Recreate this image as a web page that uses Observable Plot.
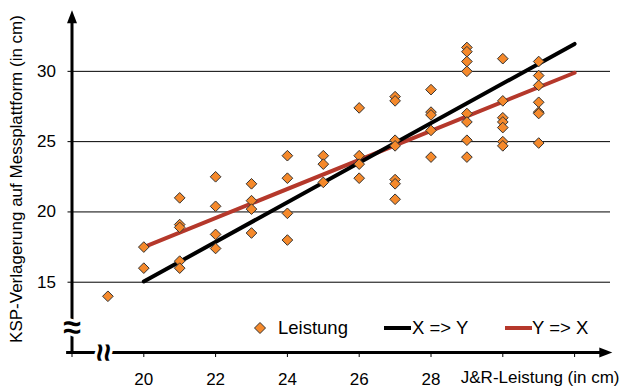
<!DOCTYPE html>
<html>
<head>
<meta charset="utf-8">
<script src="https://cdn.jsdelivr.net/npm/d3@7"></script>
<script src="https://cdn.jsdelivr.net/npm/@observablehq/plot@0.6"></script>
<style>
  html, body { margin: 0; padding: 0; background: white; }
  #wrap { position: relative; width: 622px; height: 389px; font-family: "Liberation Sans", Arial, sans-serif; }
  .leg { position: absolute; font-size: 18.5px; line-height: 20px; color: black; white-space: nowrap; }
  .swatch { position: absolute; height: 4px; }
</style>
</head>
<body>
<div id="wrap"></div>
<script>
// ---- data ----
const jrLeistung = [19,20,20,21,21,21,21,21,22,22,22,22,23,23,23,23,24,24,24,24,25,25,25,26,26,26,26,
  27,27,27,27,27,27,27,28,28,28,28,28,29,29,29,29,29,29,29,29,30,30,30,30,30,30,30,31,31,31,31,31,31,31];
const kspVerlagerung = [14.0,17.5,16.0,21.0,19.1,18.9,16.5,16.0,22.5,20.4,18.4,17.4,22.0,20.8,20.2,18.5,
  24.0,22.4,19.9,18.0,24.0,23.4,22.1,27.4,24.0,23.4,22.4,28.2,27.9,25.1,24.7,22.3,22.0,20.9,
  28.7,27.1,26.9,25.8,23.9,31.7,31.4,30.7,30.0,27.0,26.4,25.1,23.9,30.9,27.9,26.7,26.4,26.0,25.0,24.7,
  30.7,29.7,29.0,27.8,27.1,27.0,24.9];
const lineX = [20, 32];
const xToY = [15.05, 31.95];   // "X => Y"
const yToX = [17.5, 29.9];     // "Y => X"
const xTicks = [18, 20, 22, 24, 26, 28, 30, 32];
const xTickLabels = [20, 22, 24, 26, 28];
const yTicks = [15, 20, 25, 30];
const seriesNames = ["Leistung", "X => Y", "Y => X"];
const xTitle = "J&R-Leistung (in cm)";
const yTitle = "KSP-Verlagerung auf Messplattform (in cm)";

// ---- styles ----
const orange = "#f5892b", red = "#b5382b";
const xMin = 18, xMax = 33, yMin = 10, yMax = 34.4;

const points = jrLeistung.map((x, i) => ({x, y: kspVerlagerung[i]}));
const blackLine = lineX.map((x, i) => ({x, y: xToY[i]}));
const redLine = lineX.map((x, i) => ({x, y: yToX[i]}));

const arrowHead = {
  draw(ctx, size) {
    const r = Math.sqrt(size / Math.PI);
    ctx.moveTo(0, 0);
    ctx.lineTo(r, 2.6 * r);
    ctx.lineTo(-r, 2.6 * r);
    ctx.closePath();
  }
};

const chart = Plot.plot({
  width: 622, height: 389,
  marginLeft: 71.5, marginRight: 12, marginTop: 9, marginBottom: 37,
  x: {domain: [xMin, xMax]},
  y: {domain: [yMin, yMax]},
  style: {fontFamily: "'Liberation Sans', Arial, sans-serif", color: "black", background: "white", overflow: "visible"},
  marks: [
    Plot.ruleY(yTicks, {x1: xMin, x2: xMax, stroke: "black", strokeWidth: 1}),
    Plot.line(redLine, {x: "x", y: "y", stroke: red, strokeWidth: 4}),
    Plot.line(blackLine, {x: "x", y: "y", stroke: "black", strokeWidth: 4}),
    Plot.dot(points, {x: "x", y: "y", symbol: "diamond2", r: 4.8, fill: orange, stroke: "#333", strokeWidth: 1}),
    Plot.ruleX([xMin], {y1: yMin, y2: 33.6, stroke: "black", strokeWidth: 3}),
    Plot.ruleY([yMin], {x1: 17.85, x2: 32.8, stroke: "black", strokeWidth: 3}),
    Plot.dot([0], {x: xMin, y: 34.35, symbol: arrowHead, r: 5, fill: "black", stroke: null}),
    Plot.dot([0], {x: 33.05, y: yMin, symbol: arrowHead, r: 5, rotate: 90, fill: "black", stroke: null}),
    Plot.axisY({ticks: yTicks, tickSize: 4, tickPadding: 12, fontSize: 17, label: null}),
    Plot.axisX({ticks: xTicks, tickSize: 5, tickPadding: 15, fontSize: 17, label: null,
      tickFormat: d => xTickLabels.includes(d) ? String(d) : ""}),
    Plot.text(["≈"], {x: xMin, y: 11.78, fontSize: 32, fontWeight: "bold", fill: "black", stroke: "white", strokeWidth: 6, lineAnchor: "middle"}),
    Plot.text(["≈"], {x: 18.87, y: yMin, rotate: 90, fontSize: 32, fontWeight: "bold", fill: "black", stroke: "white", strokeWidth: 6, lineAnchor: "middle"}),
    Plot.text([yTitle], {frameAnchor: "left", textAnchor: "middle", rotate: -90, dx: -55, dy: -2, fontSize: 17, fill: "black"}),
    Plot.text([xTitle], {frameAnchor: "bottom-right", textAnchor: "end", dx: 9, dy: 30, fontSize: 17, fill: "black"})
  ]
});

const wrap = document.getElementById("wrap");
wrap.appendChild(chart);

// legend overlay inside plot area
function addLabel(text, left) {
  const d = document.createElement("div");
  d.className = "leg";
  d.textContent = text;
  d.style.left = left + "px";
  d.style.top = "318px";
  wrap.appendChild(d);
}
const dia = document.createElementNS("http://www.w3.org/2000/svg", "svg");
dia.setAttribute("width", 14); dia.setAttribute("height", 14);
dia.style.position = "absolute"; dia.style.left = "253px"; dia.style.top = "321px";
dia.innerHTML = `<polygon points="7,1.5 12.5,7 7,12.5 1.5,7" fill="${orange}" stroke="#333" stroke-width="1"/>`;
wrap.appendChild(dia);
addLabel(seriesNames[0], 278);
const s1 = document.createElement("div"); s1.className = "swatch";
s1.style.cssText += `left:384px;top:326px;width:27px;background:black;`;
wrap.appendChild(s1);
addLabel(seriesNames[1], 412);
const s2 = document.createElement("div"); s2.className = "swatch";
s2.style.cssText += `left:505px;top:326px;width:27px;background:${red};`;
wrap.appendChild(s2);
addLabel(seriesNames[2], 532);
</script>
</body>
</html>
